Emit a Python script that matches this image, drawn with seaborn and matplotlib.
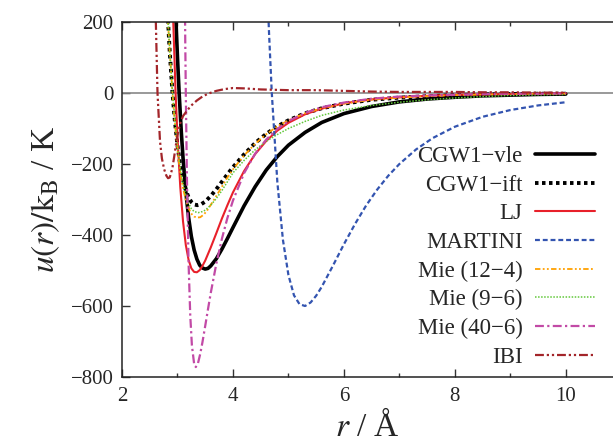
import matplotlib
matplotlib.use("Agg")
import matplotlib.pyplot as plt
import seaborn as sns
import numpy as np
import pandas as pd

# ---- data ----
r_vle = [2.95, 2.98, 3.0, 3.03, 3.07, 3.1, 3.15, 3.2, 3.25, 3.3, 3.35, 3.4, 3.45, 3.5, 3.55, 3.6, 3.7, 3.8, 3.9, 4.0,
         4.2, 4.4, 4.6, 4.8, 5.0, 5.3, 5.6, 6.0, 6.5, 7.0, 7.5, 8.0, 8.5, 9.0, 9.5, 10.0]
u_vle = [303, 176, 100, 0, -113, -183, -278, -350, -404, -442, -468, -485, -493, -496, -494, -487, -467, -440, -410, -379,
         -318, -264, -217, -179, -147, -111, -83, -58, -38, -25, -17, -12, -8, -6, -4, -3]

r_ift = [2.8, 2.83, 2.86, 2.91, 2.95, 3.0, 3.05, 3.1, 3.15, 3.2, 3.25, 3.3, 3.36, 3.42, 3.5, 3.6, 3.7, 3.8, 3.9, 4.0,
         4.2, 4.4, 4.6, 4.8, 5.0, 5.3, 5.6, 6.0, 6.5, 7.0, 7.5, 8.0, 8.5, 9.0, 9.5, 10.0]
u_ift = [303, 203, 117, 0, -74, -148, -203, -244, -273, -294, -307, -314, -316, -314, -306, -290, -271, -250, -229, -209,
         -173, -141, -115, -94, -77, -57, -43, -30, -19, -13, -9, -6, -4, -3, -2, -2]

r_lj = [2.88, 2.92, 2.966, 3.0, 3.05, 3.1, 3.15, 3.2, 3.25, 3.3, 3.35, 3.4, 3.45, 3.5, 3.6, 3.7, 3.8, 3.9, 4.0,
        4.2, 4.4, 4.6, 4.8, 5.0, 5.3, 5.6, 6.0, 6.5, 7.0, 7.5, 8.0, 8.5, 9.0, 9.5, 10.0]
u_lj = [466, 219, 0, -125, -264, -362, -428, -470, -494, -504, -505, -499, -487, -472, -435, -395, -354, -316, -280,
        -220, -172, -135, -106, -84, -60, -44, -29, -18, -12, -8, -5, -4, -3, -2, -1]

r_mar = [4.6, 4.65, 4.7, 4.8, 4.9, 5.0, 5.1, 5.2, 5.3, 5.4, 5.5, 5.6, 5.8, 6.0, 6.2, 6.4, 6.6, 6.8, 7.0, 7.3, 7.6,
         8.0, 8.5, 9.0, 9.5, 10.0]
u_mar = [376, 170, 0, -251, -413, -513, -570, -595, -600, -590, -571, -546, -487, -426, -369, -317, -272, -233, -200,
         -159, -127, -95, -67, -48, -35, -26]

r_124 = [2.8, 2.83, 2.86, 2.91, 2.95, 3.0, 3.05, 3.1, 3.15, 3.2, 3.25, 3.3, 3.35, 3.41, 3.47, 3.53, 3.6, 3.7, 3.8, 3.9,
         4.0, 4.2, 4.4, 4.6, 4.8, 5.0, 5.3, 5.6, 6.0, 6.5, 7.0, 7.5, 8.0, 8.5, 9.0, 9.5, 10.0]
u_124 = [300, 200, 115, 0, -80, -160, -222, -268, -302, -325, -340, -348, -351, -350, -343, -332, -315, -290, -264, -238,
         -215, -176, -143, -116, -94, -77, -57, -43, -30, -19, -13, -9, -6, -4, -3, -2, -2]

r_96 = [2.8, 2.83, 2.86, 2.91, 2.95, 3.0, 3.05, 3.1, 3.15, 3.2, 3.25, 3.3, 3.375, 3.45, 3.5, 3.6, 3.7, 3.8, 3.9,
        4.0, 4.2, 4.4, 4.6, 4.8, 5.0, 5.3, 5.6, 6.0, 6.5, 7.0, 7.5, 8.0, 8.5, 9.0, 9.5, 10.0]
u_96 = [300, 205, 120, 5, -70, -150, -210, -255, -288, -311, -326, -334, -337, -334, -330, -316, -297, -275, -250,
        -225, -190, -160, -136, -117, -100, -80, -63, -48, -35, -26, -19, -14, -10, -7, -5, -4]

r_406 = [3.12, 3.14, 3.15, 3.17, 3.2, 3.23, 3.26, 3.3, 3.33, 3.37, 3.41, 3.45, 3.5, 3.55, 3.6, 3.7, 3.8, 3.9, 4.0,
         4.2, 4.4, 4.6, 4.8, 5.0, 5.3, 5.6, 6.0, 6.5, 7.0, 7.5, 8.0, 8.5, 9.0, 9.5, 10.0]
u_406 = [517, 148, 0, -237, -479, -626, -711, -763, -772, -761, -735, -702, -656, -609, -563, -481, -411, -352, -303,
         -226, -171, -131, -101, -79, -56, -40, -27, -16, -10, -7, -5, -3, -2, -2, -1]

r_ibi = [2.58, 2.61, 2.64, 2.685, 2.72, 2.76, 2.8, 2.83, 2.86, 2.88, 2.91, 2.94, 2.97, 3.0, 3.05, 3.1, 3.17, 3.25,
         3.35, 3.45, 3.55, 3.7, 3.85, 4.0, 4.2, 4.5, 5.0, 5.5, 6.0, 6.5, 7.0, 7.5, 8.0, 8.5, 9.0, 9.5, 10.0]
u_ibi = [350, 200, 0, -136, -185, -215, -233, -240, -238, -228, -210, -180, -148, -118, -85, -65, -50, -35,
         -21, -10, -2, 6, 11, 14, 13, 10, 8, 8, 6, 4, 3, 3, 3, 2, 2, 1, 1]

labels = ["CGW1\u2212vle", "CGW1\u2212ift", "LJ", "MARTINI", "Mie (12\u22124)", "Mie (9\u22126)",
          "Mie (40\u22126)", "IBI"]
x_ticks = [2, 4, 6, 8, 10]
y_ticks = [-800, -600, -400, -200, 0, 200]

series = [
    (r_vle, u_vle, dict(color="black", lw=2.6, linestyle="-")),
    (r_ift, u_ift, dict(color="black", lw=2.8, linestyle=(0, (0.9, 0.9)))),
    (r_lj, u_lj, dict(color="#e8202a", lw=1.5, linestyle="-")),
    (r_mar, u_mar, dict(color="#3354b0", lw=1.6, linestyle=(0, (2.2, 1.3)))),
    (r_124, u_124, dict(color="#ffa000", lw=1.3, linestyle=(0, (3, 1.3, 1, 1.3, 1, 1.3)))),
    (r_96, u_96, dict(color="#62c83a", lw=1.1, linestyle=(0, (1, 1)))),
    (r_406, u_406, dict(color="#c24aa6", lw=1.6, linestyle=(0, (4, 1.5, 1, 1.5)))),
    (r_ibi, u_ibi, dict(color="#a3252a", lw=1.6, linestyle=(0, (4, 1.3, 1, 1.3, 1, 1.3)))),
]

sns.set_theme(style="ticks")
plt.rcParams["font.family"] = ["Liberation Serif", "DejaVu Serif"]
plt.rcParams["mathtext.fontset"] = "stix"
plt.rcParams["axes.unicode_minus"] = True

fig = plt.figure(figsize=(6.13, 4.47), dpi=100)
ax = fig.add_axes([122 / 613, 1 - 377 / 447, 1 - 122 / 613, (377 - 22) / 447])

ax.axhline(0, color="#888888", lw=1.2, zorder=1)
for (rr, uu, st), lab in zip(series, labels):
    df = pd.DataFrame({"r": rr, "u": uu})
    sns.lineplot(data=df, x="r", y="u", ax=ax, label=lab, sort=False, estimator=None, **st)

ax.set_xlim(2, 10.85)
ax.set_ylim(-800, 200)
ax.set_xticks(x_ticks)
ax.set_xticks([3, 5, 7, 9], minor=True)
ax.set_yticks(y_ticks)
ax.tick_params(axis="both", which="both", direction="in", top=True, labelsize=15, width=1.0, color="#333333")
ax.tick_params(which="major", length=6)
ax.tick_params(which="minor", length=3)
ax.tick_params(axis="x", pad=7)
ax.tick_params(axis="y", pad=6)
ax.spines["right"].set_visible(False)
for sp in ["left", "top", "bottom"]:
    ax.spines[sp].set_linewidth(1.1)
    ax.spines[sp].set_color("#222222")

ax.set_xlabel(r"$r$ / Å", fontsize=24, labelpad=3)
ax.set_ylabel(r"$u(r)/\mathrm{k}_\mathrm{B}$ / K", fontsize=24, labelpad=6)

leg = ax.legend(loc="upper right", bbox_to_anchor=(604 / 613, 1 - 137 / 447), bbox_transform=fig.transFigure,
                frameon=False, markerfirst=False, fontsize=16.5, handlelength=2.6, handletextpad=0.55,
                labelspacing=0.33, borderaxespad=0)
for t in leg.get_texts():
    t.set_ha("right")

fig.savefig("out.png", dpi=100)
